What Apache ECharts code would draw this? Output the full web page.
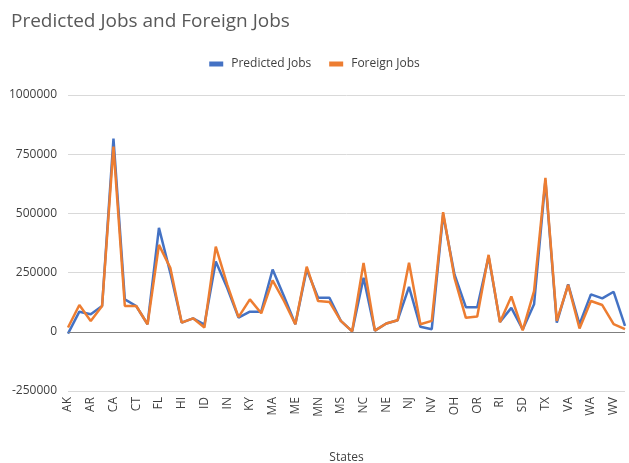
<!DOCTYPE html>
<html><head><meta charset="utf-8">
<script src="https://cdn.jsdelivr.net/npm/echarts@6/dist/echarts.min.js"></script>
<style>html,body{margin:0;padding:0;background:#fff}#c{width:629px;height:463px}</style>
</head><body><div id="c"></div>
<script>
const states = ["AK","AL","AR","AZ","CA","CO","CT","DE","FL","GA","HI","IA","ID","IL","IN","KS","KY","LA","MA","MD","ME","MI","MN","MO","MS","MT","NC","ND","NE","NH","NJ","NM","NV","NY","OH","OK","OR","PA","RI","SC","SD","TN","TX","UT","VA","VT","WA","WI","WV","WY"];
const predictedJobs = [-8000,85000,74000,109000,816000,137000,109000,32000,439000,249000,39000,57000,30000,297000,186000,60000,85000,85000,263000,150000,32000,263000,144000,144000,46000,2000,228000,5000,35000,49000,190000,21000,11000,495000,242000,104000,104000,318000,42000,101000,10000,116000,640000,39000,200000,32000,158000,141000,169000,25000];
const foreignJobs = [18000,113000,46000,109000,782000,109000,109000,32000,367000,270000,39000,57000,18000,360000,200000,62000,137000,78000,217000,130000,32000,275000,130000,126000,46000,2000,291000,5000,35000,49000,292000,32000,46000,505000,228000,59000,65000,325000,40000,149000,6000,172000,650000,46000,198000,14000,130000,113000,32000,11000];
const yTicks = {min:-250000, max:1000000, interval:250000};

const chart = echarts.init(document.getElementById('c'), null, {renderer:'canvas'});
const ff = "'Open Sans', 'Liberation Sans', sans-serif";
chart.setOption({
  animation:false,
  title:{text:'Predicted Jobs and Foreign Jobs', left:6, top:7,
    textStyle:{fontFamily:ff, fontSize:19, fontWeight:'normal', color:'#595959'}},
  legend:{top:53, left:'center', itemWidth:14, itemHeight:5, itemGap:18, icon:'rect',
    textStyle:{fontFamily:ff, fontSize:12, color:'#404040', padding:[0,0,0,3]},
    data:['Predicted Jobs','Foreign Jobs']},
  grid:{left:68, right:4, top:95, bottom:72, containLabel:false, outerBoundsMode:'none'},
  xAxis:{type:'category', data:states, boundaryGap:false,
    name:'States', nameLocation:'middle', nameGap:61,
    nameTextStyle:{fontFamily:ff, fontSize:12, color:'#404040'},
    axisLine:{show:false}, axisTick:{show:false},
    axisLabel:{interval:1, rotate:90, fontFamily:ff, fontSize:12, color:'#404040', margin:6}},
  yAxis:{type:'value', min:yTicks.min, max:yTicks.max, interval:yTicks.interval,
    axisLine:{show:false}, axisTick:{show:false},
    axisLabel:{fontFamily:ff, fontSize:12, color:'#404040', margin:11,
      formatter:function(v){return String(v);}},
    splitLine:{lineStyle:{color:'#d9d9d9', width:1}}},
  series:[
    {name:'Predicted Jobs', type:'line', data:predictedJobs, symbol:'none',
      lineStyle:{color:'#4472C4', width:2.5}, itemStyle:{color:'#4472C4'},
      markLine:{silent:true, symbol:'none', label:{show:false},
        lineStyle:{color:'#7f7f7f', width:1, type:'solid'}, data:[{yAxis:0}]}},
    {name:'Foreign Jobs', type:'line', data:foreignJobs, symbol:'none',
      lineStyle:{color:'#ED7D31', width:2.5}, itemStyle:{color:'#ED7D31'}}
  ]
});
</script></body></html>
